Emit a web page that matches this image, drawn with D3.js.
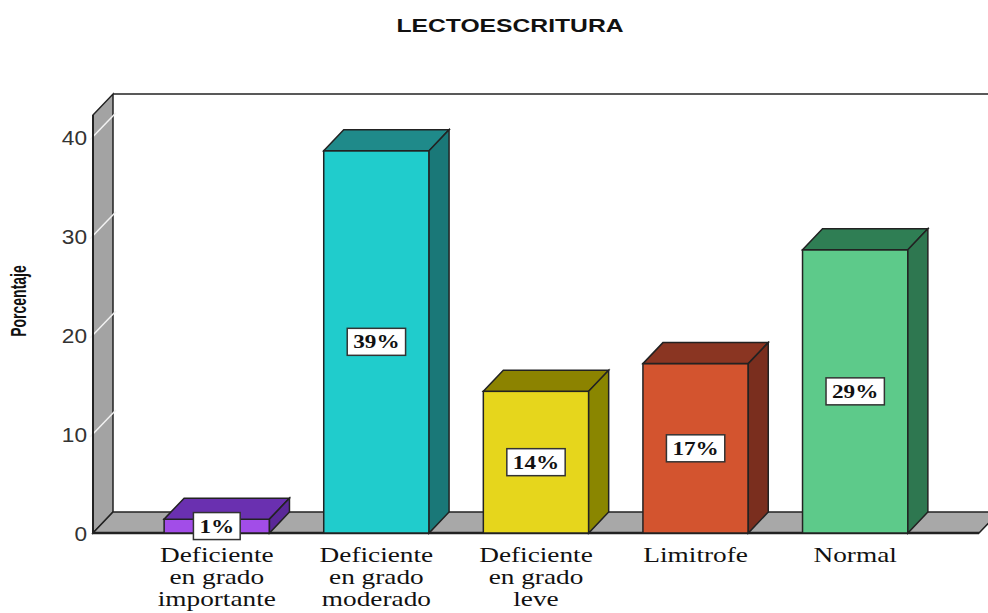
<!DOCTYPE html>
<html>
<head>
<meta charset="utf-8">
<script src="https://cdn.jsdelivr.net/npm/d3@7"></script>
<style>
  body { margin: 0; background: #fff; }
  svg { display: block; }
</style>
</head>
<body>
<div id="chart"></div>
<script>
const title = "LECTOESCRITURA";
const yTitle = "Porcentaje";
const categories = ["Deficiente en grado importante", "Deficiente en grado moderado", "Deficiente en grado leve", "Limitrofe", "Normal"];
const categoryLines = [["Deficiente", "en grado", "importante"], ["Deficiente", "en grado", "moderado"], ["Deficiente", "en grado", "leve"], ["Limitrofe"], ["Normal"]];
const values = [1.4, 38.6, 14.3, 17.1, 28.6];
const valueLabels = ["1%", "39%", "14%", "17%", "29%"];
const yTicks = [0, 10, 20, 30, 40];
const frontColors = ["#a24de8", "#20cccc", "#e6d61c", "#d3542f", "#5dca8a"];
const topColors = ["#6a30b0", "#1f8a8a", "#8c8300", "#8a3522", "#2f7e54"];
const sideColors = ["#5a2898", "#1a7878", "#8a8600", "#7a2e1e", "#2e7750"];

const width = 988, height = 613;
const dx = 20, dy = -21;     // depth offset of the 3D box
const stretch = 1.3;         // text in the source is widened horizontally

const svg = d3.select("#chart").append("svg")
  .attr("width", width)
  .attr("height", height);

const x = d3.scaleBand()
  .domain(categories)
  .range([137, 935])
  .paddingInner(0.34)
  .paddingOuter(0.17);

const y = d3.scaleLinear()
  .domain([0, 42.2])
  .range([533, 115]);

const left = 93, floorRight = 979;
const y0 = y(0), yTop = y(42.2);

// side wall
svg.append("polygon")
  .attr("points", [[left, y0], [left, yTop], [left + dx, yTop + dy], [left + dx, y0 + dy]].join(" "))
  .attr("fill", "#a3a3a3")
  .attr("stroke", "#222")
  .attr("stroke-width", 1.5);

// top edge of back wall
svg.append("line")
  .attr("x1", left + dx).attr("y1", yTop + dy)
  .attr("x2", width).attr("y2", yTop + dy)
  .attr("stroke", "#222")
  .attr("stroke-width", 1.5);

// floor
svg.append("polygon")
  .attr("points", [[left, y0], [floorRight, y0], [floorRight + dx, y0 + dy], [left + dx, y0 + dy]].join(" "))
  .attr("fill", "#a8a8a8")
  .attr("stroke", "#222")
  .attr("stroke-width", 1.5);

svg.append("line")
  .attr("x1", left).attr("y1", y0)
  .attr("x2", floorRight).attr("y2", y0)
  .attr("stroke", "#222")
  .attr("stroke-width", 2.5);

// tick lines on the side wall
svg.selectAll(".wall-tick")
  .data(yTicks.filter(t => t > 0))
  .enter()
  .append("line")
  .attr("class", "wall-tick")
  .attr("x1", left - 3).attr("y1", d => y(d) + 3)
  .attr("x2", left + dx + 3).attr("y2", d => y(d) + dy - 3)
  .attr("stroke", "#f2f2f2")
  .attr("stroke-width", 1.5);

svg.append("line")
  .attr("x1", left).attr("y1", yTop)
  .attr("x2", left).attr("y2", y0)
  .attr("stroke", "#222")
  .attr("stroke-width", 2);

// y tick labels
svg.selectAll(".ytick")
  .data(yTicks)
  .enter()
  .append("text")
  .attr("class", "ytick")
  .attr("transform", d => `translate(87,${y(d) + 8}) scale(1.08,1)`)
  .attr("text-anchor", "end")
  .style("font-family", "Liberation Sans, Arial, sans-serif")
  .style("font-size", "21px")
  .style("fill", "#333")
  .text(d => d);

// bars
const bars = svg.selectAll(".bar")
  .data(values)
  .enter()
  .append("g")
  .attr("class", "bar");

bars.append("rect")
  .attr("x", (d, i) => x(categories[i]))
  .attr("y", d => y(d))
  .attr("width", x.bandwidth())
  .attr("height", d => y0 - y(d))
  .attr("fill", (d, i) => frontColors[i])
  .attr("stroke", "#222")
  .attr("stroke-width", 1.5);

bars.append("polygon")
  .attr("points", (d, i) => {
    const bx = x(categories[i]), w = x.bandwidth(), by = y(d);
    return [[bx, by], [bx + dx, by + dy], [bx + w + dx, by + dy], [bx + w, by]].join(" ");
  })
  .attr("fill", (d, i) => topColors[i])
  .attr("stroke", "#222")
  .attr("stroke-width", 1.5);

bars.append("polygon")
  .attr("points", (d, i) => {
    const bx = x(categories[i]) + x.bandwidth(), by = y(d);
    return [[bx, by], [bx + dx, by + dy], [bx + dx, y0 + dy], [bx, y0]].join(" ");
  })
  .attr("fill", (d, i) => sideColors[i])
  .attr("stroke", "#222")
  .attr("stroke-width", 1.5);

// value labels in boxes
bars.each(function (d, i) {
  const g = d3.select(this).append("g")
    .attr("transform", `translate(${x(categories[i]) + x.bandwidth() / 2},${(y(d) + y0) / 2})`);
  const box = g.append("rect");
  const t = g.append("text")
    .attr("transform", "scale(1.22,1)")
    .attr("text-anchor", "middle")
    .attr("dy", "0.35em")
    .style("font-family", "Liberation Serif, Times New Roman, serif")
    .style("font-weight", "bold")
    .style("font-size", "19px")
    .style("fill", "#111")
    .text(valueLabels[i]);
  const tw = t.node().getComputedTextLength() * 1.22 + 12;
  box.attr("x", -tw / 2).attr("y", -13.5)
    .attr("width", tw).attr("height", 27)
    .attr("fill", "#fff")
    .attr("stroke", "#333")
    .attr("stroke-width", 1.5);
});

// category labels
categoryLines.forEach((lines, i) => {
  const cx = x(categories[i]) + x.bandwidth() / 2;
  lines.forEach((line, j) => {
    svg.append("text")
      .attr("transform", `translate(${cx},${562 + j * 22}) scale(${stretch},1)`)
      .attr("text-anchor", "middle")
      .style("font-family", "Liberation Serif, Times New Roman, serif")
      .style("font-size", "21px")
      .style("fill", "#111")
      .text(line);
  });
});

// title
svg.append("text")
  .attr("transform", `translate(510,32) scale(${stretch},1)`)
  .attr("text-anchor", "middle")
  .style("font-family", "Liberation Sans, Arial, sans-serif")
  .style("font-weight", "bold")
  .style("font-size", "19px")
  .style("fill", "#111")
  .text(title);

// y axis title
svg.append("text")
  .attr("transform", "translate(26,301) scale(1.6,1) rotate(-90)")
  .attr("text-anchor", "middle")
  .style("font-family", "Liberation Sans, Arial, sans-serif")
  .style("font-weight", "bold")
  .style("font-size", "14px")
  .style("fill", "#111")
  .text(yTitle);
</script>
</body>
</html>
